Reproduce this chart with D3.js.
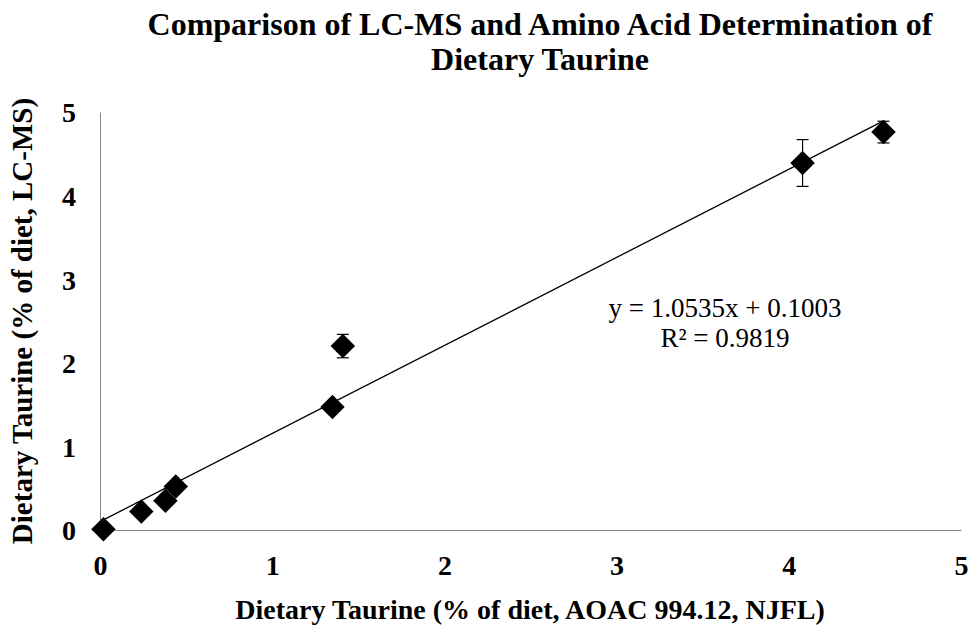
<!DOCTYPE html>
<html>
<head>
<meta charset="utf-8">
<script src="https://cdn.jsdelivr.net/npm/d3@7/dist/d3.min.js"></script>
<style>
  html, body { margin: 0; padding: 0; background: #fff; }
  svg { display: block; font-family: "Liberation Serif", "Times New Roman", serif; }
</style>
</head>
<body>
<svg id="chart" width="970" height="626"></svg>
<script>
// Dietary taurine: amino acid method (x) vs LC-MS (y), with LC-MS standard deviation
const aoacValues = [0.02, 0.24, 0.38, 0.44, 1.35, 1.41, 4.08, 4.55];
const lcmsValues = [0.01, 0.22, 0.35, 0.52, 1.47, 2.20, 4.39, 4.76];
const lcmsErrors = [0.00, 0.00, 0.00, 0.00, 0.00, 0.14, 0.28, 0.13];
const xTicks = [0, 1, 2, 3, 4, 5];
const yTicks = [0, 1, 2, 3, 4, 5];
const slope = 1.0535;
const intercept = 0.1003;
const rSquared = 0.9819;

const titleLines = ["Comparison of LC-MS and Amino Acid Determination of", "Dietary Taurine"];
const xTitle = "Dietary Taurine (% of diet, AOAC 994.12, NJFL)";
const yTitle = "Dietary Taurine (% of diet, LC-MS)";

const svg = d3.select("#chart");
const plot = { left: 100, right: 961, top: 112, bottom: 530 };

const x = d3.scaleLinear().domain([0, 5]).range([plot.left, plot.right]);
const y = d3.scaleLinear().domain([0, 5]).range([plot.bottom, plot.top]);

// Title
svg.append("text")
  .attr("text-anchor", "middle")
  .attr("font-size", 32).attr("font-weight", "bold")
  .selectAll("tspan").data(titleLines).join("tspan")
  .attr("x", 540).attr("y", (d, i) => 35 + i * 35)
  .text(d => d);

// Axes (lines only, bold tick labels)
const xAxis = d3.axisBottom(x).tickValues(xTicks).tickSize(0).tickPadding(25).tickFormat(d3.format("d"));
const yAxis = d3.axisLeft(y).tickValues(yTicks).tickSize(0).tickPadding(24).tickFormat(d3.format("d"));

const gx = svg.append("g").attr("transform", `translate(0,${plot.bottom})`).call(xAxis);
const gy = svg.append("g").attr("transform", `translate(${plot.left},0)`).call(yAxis);

[gx, gy].forEach(g => {
  g.select(".domain").attr("stroke", "#868686").attr("stroke-width", 1);
  g.selectAll(".tick text")
    .attr("font-family", "'Liberation Serif', 'Times New Roman', serif")
    .attr("font-size", 28).attr("font-weight", "bold").attr("fill", "#000");
});
gx.selectAll(".tick text").attr("dy", "0.71em");
gy.selectAll(".tick text").attr("dy", "0.35em");

// Axis titles
svg.append("text")
  .attr("x", 530).attr("y", 619)
  .attr("text-anchor", "middle")
  .attr("font-size", 28).attr("font-weight", "bold")
  .text(xTitle);

svg.append("text")
  .attr("transform", `translate(32,${(plot.top + plot.bottom) / 2}) rotate(-90)`)
  .attr("text-anchor", "middle")
  .attr("font-size", 29).attr("font-weight", "bold")
  .text(yTitle);

// Linear trendline across the data range
const xMin = d3.min(aoacValues), xMax = d3.max(aoacValues);
svg.append("line")
  .attr("x1", x(xMin)).attr("y1", y(slope * xMin + intercept))
  .attr("x2", x(xMax)).attr("y2", y(slope * xMax + intercept))
  .attr("stroke", "#000").attr("stroke-width", 1.3);

const points = aoacValues.map((v, i) => ({ x: v, y: lcmsValues[i], err: lcmsErrors[i] }));

// Error bars
const eb = svg.append("g").attr("stroke", "#000").attr("stroke-width", 1.2);
points.filter(d => d.err > 0).forEach(d => {
  const cx = x(d.x);
  eb.append("line").attr("x1", cx).attr("x2", cx).attr("y1", y(d.y + d.err)).attr("y2", y(d.y - d.err));
  eb.append("line").attr("x1", cx - 6).attr("x2", cx + 6).attr("y1", y(d.y + d.err)).attr("y2", y(d.y + d.err));
  eb.append("line").attr("x1", cx - 6).attr("x2", cx + 6).attr("y1", y(d.y - d.err)).attr("y2", y(d.y - d.err));
});

// Diamond markers (square rotated 45°)
const diamond = d3.symbol().type(d3.symbolSquare).size(300);
svg.append("g").selectAll("path").data(points).join("path")
  .attr("d", diamond)
  .attr("transform", d => `translate(${x(d.x)},${y(d.y)}) rotate(45)`)
  .attr("fill", "#000");

// Regression equation
const eq = svg.append("text")
  .attr("text-anchor", "middle")
  .attr("font-size", 27).attr("fill", "#000");
eq.append("tspan").attr("x", 725).attr("y", 317)
  .text(`y = ${slope.toFixed(4)}x + ${intercept.toFixed(4)}`);
eq.append("tspan").attr("x", 725).attr("y", 347)
  .text(`R² = ${rSquared.toFixed(4)}`);
</script>
</body>
</html>
